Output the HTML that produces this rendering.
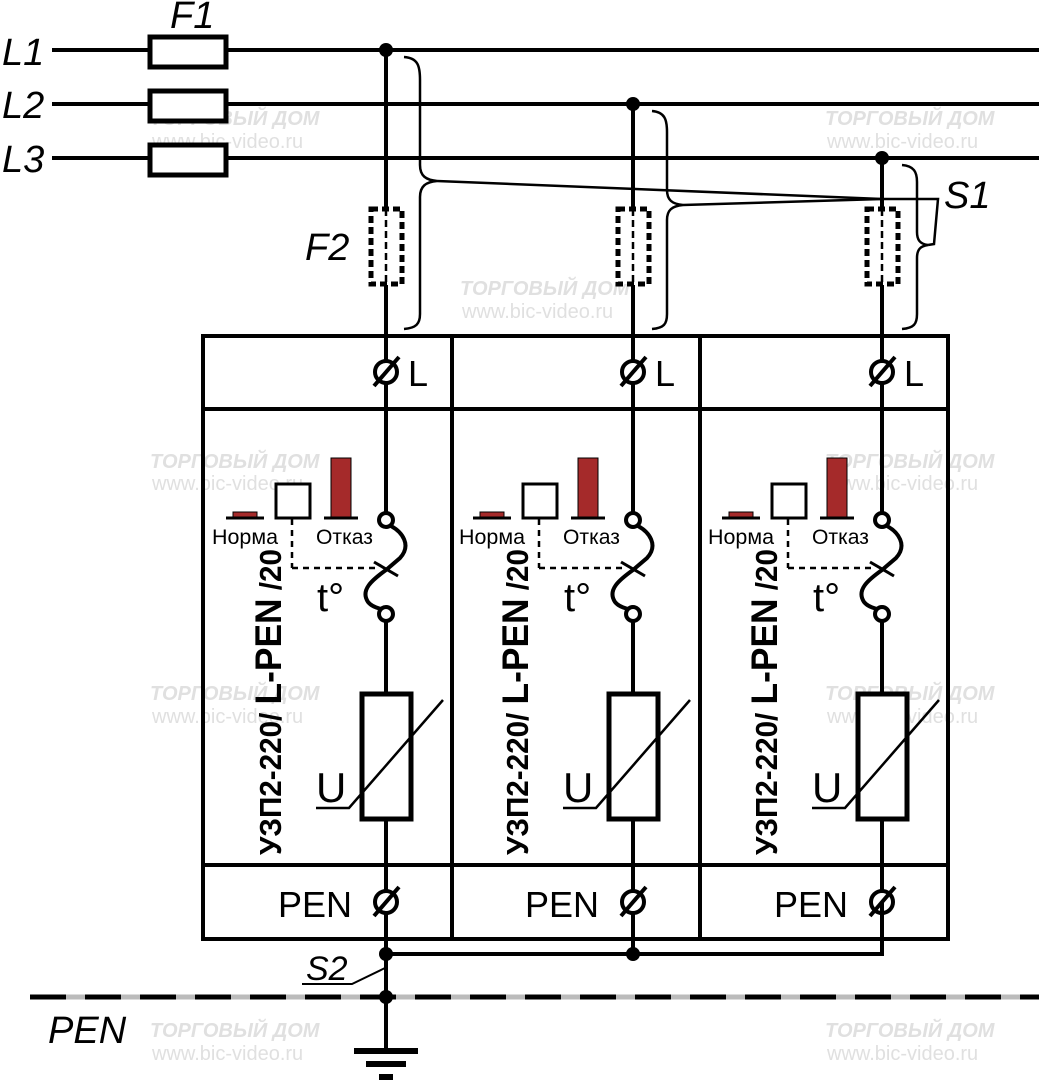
<!DOCTYPE html>
<html><head><meta charset="utf-8"><style>
html,body{margin:0;padding:0;background:#fff;}
svg{display:block;}
text{font-family:"Liberation Sans","DejaVu Sans",sans-serif;}
</style></head><body>
<svg width="1039" height="1080" viewBox="0 0 1039 1080" xmlns="http://www.w3.org/2000/svg">
<defs>
<g id="mod">
  <line x1="386" y1="285" x2="386" y2="512" stroke="#000" stroke-width="4"/>
  <line x1="386" y1="622" x2="386" y2="692" stroke="#000" stroke-width="4"/>
  <line x1="386" y1="820" x2="386" y2="954" stroke="#000" stroke-width="4"/>
  <rect x="371" y="209" width="31" height="75" fill="#fff" stroke="#000" stroke-width="5" stroke-dasharray="7,4"/>
  <line x1="386" y1="209" x2="386" y2="284" stroke="#000" stroke-width="2.5" stroke-dasharray="7,4"/>
  <circle cx="386" cy="372" r="11" fill="#fff" stroke="#000" stroke-width="4"/>
  <line x1="374" y1="386" x2="399" y2="357" stroke="#000" stroke-width="4"/>
  <text x="408" y="386" font-size="36">L</text>
  <rect x="233" y="512" width="24" height="6" fill="#a52a2a" stroke="#000" stroke-width="1"/>
  <line x1="226" y1="518" x2="264" y2="518" stroke="#000" stroke-width="3"/>
  <rect x="276" y="484" width="34" height="34" fill="#fff" stroke="#000" stroke-width="3"/>
  <rect x="331" y="458" width="20" height="60" fill="#a52a2a" stroke="#000" stroke-width="1"/>
  <line x1="324" y1="518" x2="358" y2="518" stroke="#000" stroke-width="3"/>
  <text x="212" y="544" font-size="21" textLength="66" lengthAdjust="spacingAndGlyphs">Норма</text>
  <text x="316" y="544" font-size="21" textLength="57" lengthAdjust="spacingAndGlyphs">Отказ</text>
  <line x1="292" y1="519" x2="292" y2="568" stroke="#000" stroke-width="2.5" stroke-dasharray="6,5"/>
  <line x1="292" y1="568" x2="378" y2="568" stroke="#000" stroke-width="2.5" stroke-dasharray="6,5"/>
  <text x="317" y="611" font-size="40">t°</text>
  <circle cx="386" cy="520" r="7" fill="#fff" stroke="#000" stroke-width="4"/>
  <circle cx="386" cy="614" r="7" fill="#fff" stroke="#000" stroke-width="4"/>
  <path d="M391 526 C402 532 412 545 400 558 L386 570 C372 580 360 590 368 602 C372 607 378 608 381 609" fill="none" stroke="#000" stroke-width="4"/>
  <line x1="374" y1="562" x2="398" y2="576" stroke="#000" stroke-width="3"/>
  <text transform="translate(281,855) rotate(-90)" font-size="31" font-weight="bold" textLength="306" lengthAdjust="spacingAndGlyphs">УЗП2-220/ <tspan font-size="37">L-PEN</tspan> /20</text>
  <rect x="362" y="694" width="49" height="125" fill="#fff" stroke="#000" stroke-width="5"/>
  <polyline points="316,808 349,808 443,700" fill="none" stroke="#000" stroke-width="2.5"/>
  <text x="316" y="802" font-size="42">U</text>
  <text x="278" y="917" font-size="36">PEN</text>
  <circle cx="386" cy="902" r="11" fill="#fff" stroke="#000" stroke-width="4"/>
  <line x1="374" y1="916" x2="399" y2="887" stroke="#000" stroke-width="4"/>
</g>
</defs>

<g fill="#e0e0e0" font-style="italic" font-weight="bold" font-size="20">
  <text x="150" y="125">ТОРГОВЫЙ ДОМ</text>
  <text x="825" y="125">ТОРГОВЫЙ ДОМ</text>
  <text x="460" y="295">ТОРГОВЫЙ ДОМ</text>
  <text x="150" y="468">ТОРГОВЫЙ ДОМ</text>
  <text x="825" y="468">ТОРГОВЫЙ ДОМ</text>
  <text x="150" y="700">ТОРГОВЫЙ ДОМ</text>
  <text x="825" y="700">ТОРГОВЫЙ ДОМ</text>
  <text x="150" y="1037">ТОРГОВЫЙ ДОМ</text>
  <text x="825" y="1037">ТОРГОВЫЙ ДОМ</text>
</g>
<g fill="#e0e0e0" font-size="20">
  <text x="152" y="148">www.bic-video.ru</text>
  <text x="827" y="148">www.bic-video.ru</text>
  <text x="462" y="318">www.bic-video.ru</text>
  <text x="152" y="490">www.bic-video.ru</text>
  <text x="827" y="490">www.bic-video.ru</text>
  <text x="152" y="723">www.bic-video.ru</text>
  <text x="827" y="723">www.bic-video.ru</text>
  <text x="152" y="1060">www.bic-video.ru</text>
  <text x="827" y="1060">www.bic-video.ru</text>
</g>

<g stroke="#000" stroke-width="4">
  <line x1="52" y1="50" x2="1039" y2="50"/>
  <line x1="52" y1="104" x2="1039" y2="104"/>
  <line x1="52" y1="158" x2="1039" y2="158"/>
</g>
<g fill="#fff" stroke="#000" stroke-width="5">
  <rect x="150" y="37" width="76" height="30"/>
  <rect x="150" y="91" width="76" height="30"/>
  <rect x="150" y="145" width="76" height="30"/>
</g>
<g font-style="italic" font-size="38">
  <text x="2" y="65">L1</text>
  <text x="2" y="118">L2</text>
  <text x="2" y="172">L3</text>
  <text x="170" y="28">F1</text>
  <text x="305" y="260">F2</text>
  <text x="944" y="208">S1</text>
  <text x="306" y="980" font-size="34">S2</text>
  <text x="48" y="1043">PEN</text>
</g>

<g stroke="#000" stroke-width="4">
  <line x1="386" y1="50" x2="386" y2="210"/>
  <line x1="633" y1="104" x2="633" y2="210"/>
  <line x1="882" y1="158" x2="882" y2="210"/>
</g>
<g fill="#000">
  <circle cx="386" cy="50" r="7"/>
  <circle cx="633" cy="104" r="7"/>
  <circle cx="882" cy="158" r="7"/>
</g>

<rect x="203" y="336" width="745" height="603" fill="none" stroke="#000" stroke-width="4"/>
<g stroke="#000" stroke-width="4">
  <line x1="452" y1="336" x2="452" y2="939"/>
  <line x1="700" y1="336" x2="700" y2="939"/>
  <line x1="203" y1="409" x2="948" y2="409"/>
  <line x1="203" y1="865" x2="948" y2="865"/>
</g>
<use href="#mod"/>
<use href="#mod" transform="translate(247,0)"/>
<use href="#mod" transform="translate(496,0)"/>

<g fill="none" stroke="#000" stroke-width="2.5">
  <path d="M404 57 C418 58 420 66 420 80 L420 165 C420 176 426 180 437 181 C426 182 420 186 420 197 L420 314 C420 324 416 328 404 329"/>
  <path d="M652 111 C665 112 667 120 667 132 L667 190 C667 200 672 204 683 205 C672 206 667 210 667 220 L667 314 C667 324 664 328 652 329"/>
  <path d="M902 165 C914 166 917 172 917 182 L917 232 C917 240 920 244 928 245 C920 246 917 250 917 258 L917 314 C917 324 914 328 902 329"/>
  <polyline points="437,181 882,199 938,199 934,244 928,245"/>
  <line x1="683" y1="205" x2="882" y2="199"/>
</g>

<polyline points="386,954 882,954 882,902" fill="none" stroke="#000" stroke-width="4"/>
<line x1="386" y1="954" x2="386" y2="1051" stroke="#000" stroke-width="4"/>
<circle cx="386" cy="954" r="7"/>
<circle cx="633" cy="954" r="7"/>
<circle cx="386" cy="997" r="7"/>
<line x1="30" y1="997" x2="1039" y2="997" stroke="#bbb" stroke-width="5"/>
<line x1="30" y1="997" x2="1039" y2="997" stroke="#000" stroke-width="5" stroke-dasharray="36,19"/>
<polyline points="302,984 352,984 385,968" fill="none" stroke="#000" stroke-width="2"/>
<g stroke="#000" stroke-width="6">
  <line x1="354" y1="1051" x2="418" y2="1051"/>
  <line x1="366" y1="1064" x2="406" y2="1064"/>
  <line x1="379" y1="1077" x2="393" y2="1077"/>
</g>
</svg>
</body></html>
